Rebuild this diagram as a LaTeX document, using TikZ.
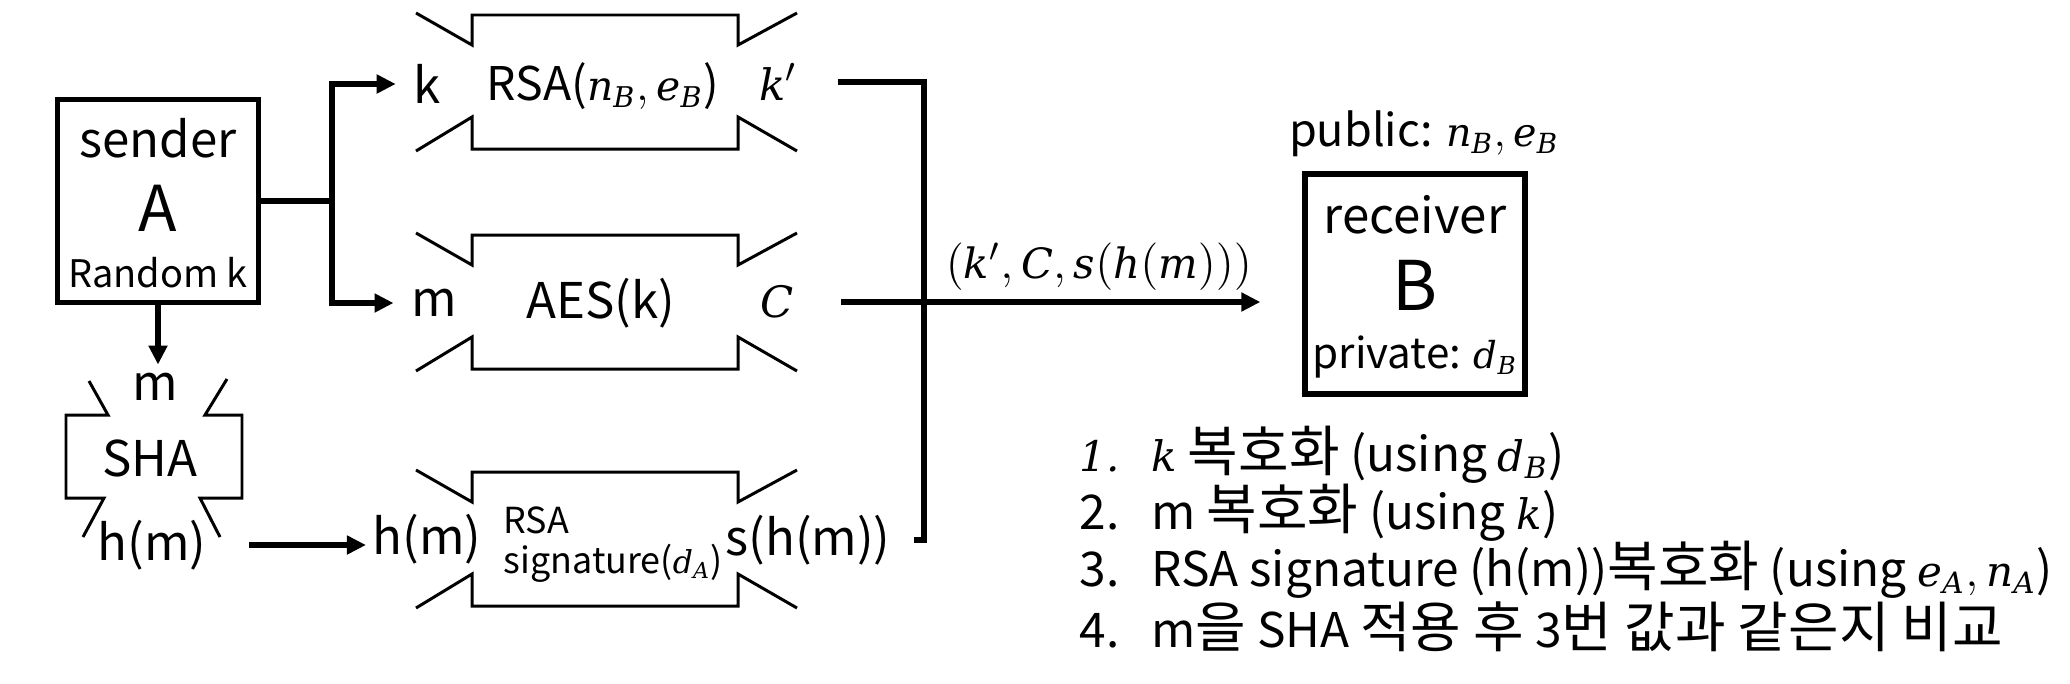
\RequirePackage{fix-cm}
\documentclass[tikz,border=0pt]{standalone}
\usepackage[no-math]{fontspec}
\setmainfont{Noto Sans CJK KR}
\newfontfamily\hangul{Noto Sans CJK KR}[Scale=1.15]
\newfontfamily\mathletters{DejaVu Serif}[NFSSFamily=mathletters, Scale=0.88]
\DeclareSymbolFont{letters}{TU}{mathletters}{m}{it}
\DeclareMathSymbol{,}{\mathpunct}{operators}{"2C}
\usetikzlibrary{arrows.meta}

\begin{document}
\begin{tikzpicture}[
    txt/.style={inner sep=0pt, font=\fontsize{14}{17}\selectfont},
    small/.style={inner sep=0pt, font=\fontsize{10.2}{12}\selectfont},
    keytxt/.style={inner sep=0pt, font=\fontsize{12.3}{15}\selectfont},
    item/.style={inner sep=0pt, anchor=west, font=\fontsize{13.6}{16}\selectfont},
    party/.style={draw, line width=1.5pt, inner sep=0pt},
    bracket/.style={line width=0.85pt},
    conn/.style={line width=1.6pt},
    arr/.style={-{Triangle[length=0.19cm,width=0.18cm]}}
  ]

  \useasboundingbox (0,0) rectangle (20.70,6.83);

  % sender
  \node[party, minimum width=2.01cm, minimum height=2.03cm] (sender) at (1.58,4.82) {};
  \node[txt] (sname) at (1.58,5.45) {sender};
  \node[txt, font=\fontsize{18}{21}\selectfont] (sA) at (1.58,4.75) {A};
  \node[small, font=\fontsize{10.8}{13}\selectfont] (srand) at (1.58,4.10) {Random k};

  % SHA
  \node[txt] (shain) at (1.55,2.96) {m};
  \node[txt] (sha) at (1.50,2.25) {SHA};
  \node[txt] (hout) at (1.52,1.38) {h(m)};
  \draw[bracket] (0.89,3.02) -- (1.08,2.68) -- (0.66,2.68) -- (0.66,1.85) -- (1.04,1.85) -- (0.83,1.46);
  \draw[bracket] (2.27,3.04) -- (2.05,2.68) -- (2.42,2.68) -- (2.42,1.85) -- (2.00,1.85) -- (2.20,1.46);

  % RSA, AES, signature
  \foreach \t in {6.68,4.48,2.11} {
    \draw[bracket] (4.16,\t+0.02) -- (4.72,\t-0.30) -- (4.72,\t) -- (7.38,\t) -- (7.38,\t-0.30) -- (7.97,\t+0.02);
    \draw[bracket] (4.16,\t-1.36) -- (4.72,\t-1.02) -- (4.72,\t-1.34) -- (7.38,\t-1.34) -- (7.38,\t-1.02) -- (7.97,\t-1.36);
  }

  \node[txt] (kin) at (4.27,5.99) {k};
  \node[txt, font=\fontsize{13.2}{16}\selectfont] (rsa) at (6.03,5.97) {RSA($n_B, e_B$)};
  \node[txt] (kout) at (7.78,6.01) {$k'$};

  \node[txt] (min) at (4.34,3.80) {m};
  \node[txt] (aes) at (6.01,3.80) {AES(k)};
  \node[txt] (cout) at (7.77,3.81) {$C$};

  \node[txt] (hin) at (4.27,1.44) {h(m)};
  \node[small, anchor=west] (sig1) at (5.03,1.63) {RSA};
  \node[small, anchor=west] (sig2) at (5.03,1.20) {signature($d_A$)};
  \node[txt] (sout) at (8.08,1.43) {s(h(m))};

  % receiver
  \node[party, minimum width=2.20cm, minimum height=2.20cm] (recv) at (14.15,3.99) {};
  \node[txt] (rname) at (14.15,4.68) {receiver};
  \node[txt, font=\fontsize{19.5}{23}\selectfont] (rB) at (14.15,3.98) {B};
  \node[keytxt, font=\fontsize{12}{14}\selectfont] (rpriv) at (14.15,3.26) {private: $d_B$};
  \node[keytxt, font=\fontsize{12.8}{15}\selectfont] (rpub) at (14.24,5.49) {public: $n_B, e_B$};

  % connectors
  \coordinate (bus) at (9.24,0);
  \draw[conn,arr,shorten >=0.17cm] (sender.east) -- ++(0.71,0) |- (kin.west);
  \draw[conn,arr,shorten >=0.17cm] (sender.east) -- ++(0.71,0) |- (min.west);
  \draw[conn,arr,shorten >=0.08cm] (sender.south) -- (sender.south |- shain.north);
  \draw[conn,arr,shorten <=0.42cm,shorten >=0.06cm] (hout.east) -- (hout.east -| hin.west);
  \draw[conn,shorten <=0.40cm,shorten >=0.23cm] (kout.east) -- (kout.east -| bus) -- (sout.east -| bus) -- (sout.east);
  \draw[conn,arr,shorten <=0.47cm,shorten >=0.42cm] (cout.east) -- (cout.east -| recv.west);
  \node[keytxt, font=\fontsize{13.5}{16}\selectfont] (msg) at (10.99,4.16) {$(k',C,s(h(m)))$};

  % steps at B
  \node[item] (step1) at (10.79,2.28) {\makebox[0.72cm][l]{\mathletters\itshape 1.}$k$ {\hangul 복호화} (using $d_B$)};
  \node[item] (step2) at (10.79,1.70) {\makebox[0.72cm][l]{2.}m {\hangul 복호화} (using $k$)};
  \node[item] (step3) at (10.79,1.13) {\makebox[0.72cm][l]{3.}RSA signature (h(m)){\hangul 복호화} (using $e_A, n_A$)};
  \node[item] (step4) at (10.79,0.56) {\makebox[0.72cm][l]{4.}m{\hangul 을} SHA {\hangul 적용 후} 3{\hangul 번 값과 같은지 비교}};

\end{tikzpicture}
\end{document}
